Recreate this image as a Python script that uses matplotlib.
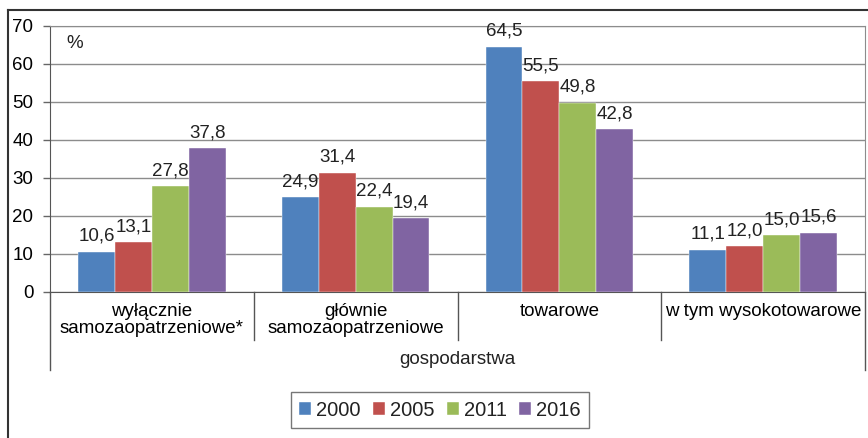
import numpy as np
import matplotlib
matplotlib.use("Agg")
import matplotlib.pyplot as plt
from matplotlib.lines import Line2D

plt.rcParams['font.family'] = ['Liberation Sans', 'DejaVu Sans']
plt.rcParams['font.size'] = 13
plt.rcParams['text.color'] = '#222222'

categories = ["wyłącznie\nsamozaopatrzeniowe*", "głównie\nsamozaopatrzeniowe",
              "towarowe", "w tym wysokotowarowe"]
years = ["2000", "2005", "2011", "2016"]
v2000 = [10.6, 24.9, 64.5, 11.1]
v2005 = [13.1, 31.4, 55.5, 12.0]
v2011 = [27.8, 22.4, 49.8, 15.0]
v2016 = [37.8, 19.4, 42.8, 15.6]
series = [v2000, v2005, v2011, v2016]
colors = ['#4F81BD', '#C0504D', '#9BBB59', '#8064A2']

fig = plt.figure(figsize=(8.68, 4.38), dpi=100)
W, H = 868, 438
ax = fig.add_axes([50 / W, 1 - 292 / H, 815 / W, 266 / H])

x = np.arange(len(categories))
bw = 0.181
for j, (vals, col, yr) in enumerate(zip(series, colors, years)):
    pos = x + (j - 1.5) * bw
    ax.bar(pos, vals, bw, color=col, label=yr, zorder=3,
           edgecolor='white', linewidth=0.3)
    for p, v in zip(pos, vals):
        ax.annotate(f"{v:.1f}".replace('.', ','), (p, v), xytext=(0, 5),
                    textcoords='offset points', ha='center', va='bottom',
                    fontsize=13.5)

ax.set_xlim(-0.5, 3.5)
ax.set_ylim(0, 70)
ax.set_yticks(range(0, 71, 10))
ax.yaxis.grid(True, color='#8c8c8c', linewidth=1, zorder=0)
ax.tick_params(axis='y', length=5, width=1, color='#666666', pad=7, labelsize=13.5)
ax.set_xticks(x)
ax.set_xticklabels(categories, linespacing=1.0)
ax.tick_params(axis='x', length=0, pad=8, labelsize=13.5)

for s in ['top', 'right']:
    ax.spines[s].set_color('#8c8c8c')
ax.spines['left'].set_color('#555555')
ax.spines['bottom'].set_color('#555555')

# group separators below the category axis
for b in [0.5, 1.5, 2.5]:
    ax.add_line(Line2D([b, b], [0, -0.18], transform=ax.get_xaxis_transform(),
                       color='#555555', linewidth=1, clip_on=False))
for b in [-0.5, 3.5]:
    ax.add_line(Line2D([b, b], [0, -0.293], transform=ax.get_xaxis_transform(),
                       color='#555555', linewidth=1, clip_on=False))

fig.text(457 / W, 1 - 360 / H, "gospodarstwa", ha='center', va='center', fontsize=13.5)
fig.text(66 / W, 1 - 43 / H, "%", ha='left', va='center', fontsize=13.5)

# outer chart frame
fig.add_artist(Line2D([8 / W, 1], [1 - 10 / H, 1 - 10 / H], transform=fig.transFigure,
                      color='#333333', linewidth=1.5))
fig.add_artist(Line2D([8 / W, 8 / W], [0, 1 - 10 / H], transform=fig.transFigure,
                      color='#333333', linewidth=1.5))

leg = fig.legend(loc='center', bbox_to_anchor=(440 / W, 1 - 410 / H), ncol=4,
                 frameon=True, fancybox=False, edgecolor='#555555',
                 handlelength=0.6, handleheight=0.6, handletextpad=0.25,
                 columnspacing=0.6, borderpad=0.4, fontsize=14.5)
leg.get_frame().set_linewidth(1)

fig.savefig("out.png", dpi=100)
